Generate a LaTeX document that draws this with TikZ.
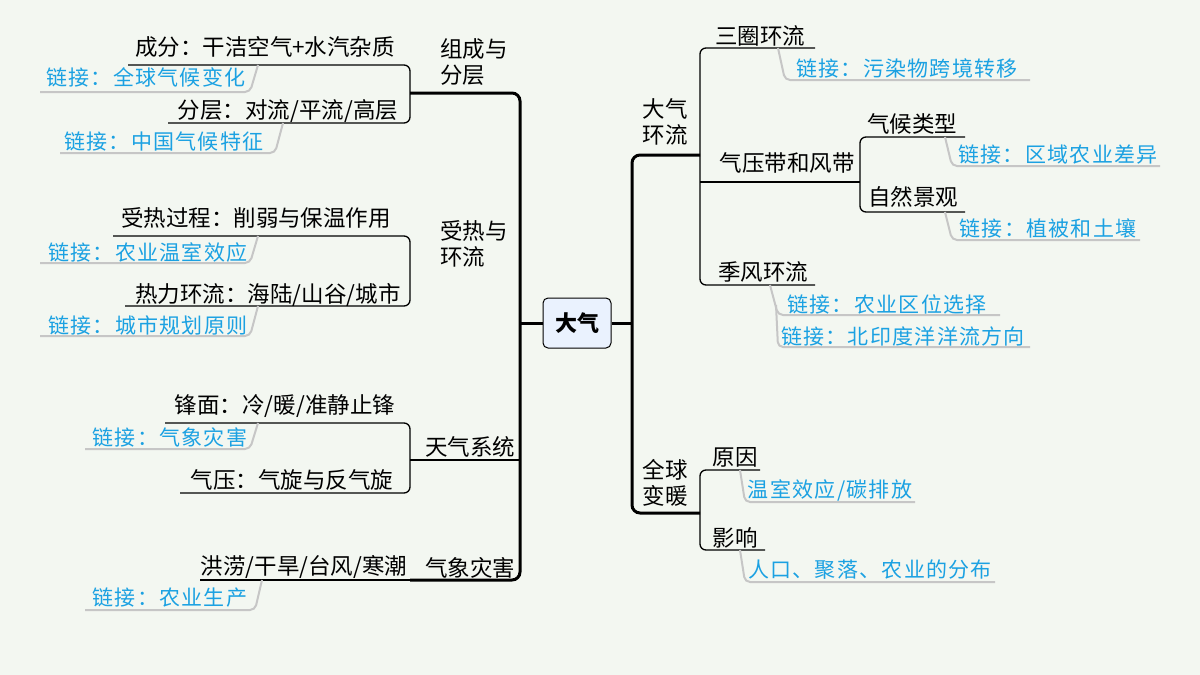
\documentclass[tikz,border=0pt]{standalone}
\usepackage{fontspec}
\setmainfont{Noto Sans CJK SC}
\usetikzlibrary{positioning}
\definecolor{bgc}{HTML}{F3F7F1}
\definecolor{linkc}{HTML}{1BA1E2}
\definecolor{boxc}{HTML}{EAF2FE}
\begin{document}
\begin{tikzpicture}
                    [
                        x=1pt,y=-1pt,
                        every node/.style={inner sep=0pt,font=\fontsize{22.5}{26}\selectfont},
                        linktext/.style={text=linkc,font=\fontsize{21}{24}\selectfont\addfontfeature{LetterSpace=6}},
                        branch/.style={line width=1.3pt,rounded corners=6pt},
                        trunk/.style={line width=3pt,rounded corners=8pt},
                        linkline/.style={gray!45,line width=2pt,rounded corners=5pt}
                    ]
                    % Hintergrund
                    \fill[bgc] (0,0) rectangle (1200,675);
                    \useasboundingbox (0,0) rectangle (1200,675);

                    \node[draw,fill=boxc,rounded corners=5pt,line width=1pt,minimum width=68pt,minimum height=50pt,font=\fontsize{22}{24}\selectfont\bfseries] (root) at (577,323) {大气};

                    % links
                    \draw[trunk] (410,93) -- (520,93) -- (520,580) -- (410,580);
                    \draw[trunk] (700,155) -- (632,155) -- (632,513) -- (700,513);
                    \draw[line width=3pt] (root.west) -- (520,323);
                    \draw[line width=3pt] (root.east) -- (632,323);

                    \node[align=left] (zc) at (474,62) {组成与\\分层};
                    \node[align=left] (sr) at (474,244) {受热与\\环流};
                    \node (tq) at (470,447) {天气系统};
                    \node (zh) at (470,568) {气象灾害};

                    \draw[branch] (128,65) -- (410,65) -- (410,123) -- (168,123);
                    \node (cf) at (265,47) {成分：干洁空气+水汽杂质};
                    \node (fc) at (288,111) {分层：对流/平流/高层};
                    \draw[linkline] (258,65) -- (250,92) -- (40,92);
                    \node[linktext] (l1) at (146,77) {链接：全球气候变化};
                    \draw[linkline] (283,123) -- (275,153) -- (60,153);
                    \node[linktext] (l2) at (164,142) {链接：中国气候特征};

                    \draw[branch] (113,236) -- (410,236) -- (410,306) -- (125,306);
                    \node (sg) at (256,218) {受热过程：削弱与保温作用};
                    \node (rl) at (268,295) {热力环流：海陆/山谷/城市};
                    \draw[linkline] (258,236) -- (250,263) -- (40,263);
                    \node[linktext] (l3) at (148,252) {链接：农业温室效应};
                    \draw[linkline] (258,306) -- (250,336) -- (40,336);
                    \node[linktext] (l4) at (148,325) {链接：城市规划原则};

                    \draw[branch] (165,423) -- (410,423) -- (410,493) -- (180,493);
                    \draw[branch] (410,460) -- (520,460);
                    \node (fm) at (285,406) {锋面：冷/暖/准静止锋};
                    \node (qy) at (292,480) {气压：气旋与反气旋};
                    \draw[linkline] (258,423) -- (250,449) -- (85,449);
                    \node[linktext] (l5) at (170,437) {链接：气象灾害};

                    \draw[branch] (200,580) -- (410,580);
                    \node (hl) at (304,567) {洪涝/干旱/台风/寒潮};
                    \draw[linkline] (262,580) -- (255,610) -- (85,610);
                    \node[linktext] (l6) at (170,598) {链接：农业生产};

                    % rechts
                    \node[align=left] (hl2) at (665,122) {大气\\环流};
                    \node[align=left] (qb) at (665,483) {全球\\变暖};

                    \draw[branch] (815,48) -- (700,48) -- (700,285) -- (815,285);
                    \draw[branch] (700,182) -- (860,182);
                    \node (sq) at (760,36) {三圈环流};
                    \draw[linkline] (778,48) -- (785,80) -- (1030,80);
                    \node[linktext] (l7) at (907,68) {链接：污染物跨境转移};
                    \node (qf) at (787,163) {气压带和风带};
                    \draw[branch] (965,137) -- (860,137) -- (860,212) -- (965,212);
                    \node (qh) at (912,124) {气候类型};
                    \draw[linkline] (945,137) -- (952,166) -- (1160,166);
                    \node[linktext] (l8) at (1058,155) {链接：区域农业差异};
                    \node (zr) at (913,197) {自然景观};
                    \draw[linkline] (945,212) -- (952,240) -- (1140,240);
                    \node[linktext] (l9) at (1048,228) {链接：植被和土壤};
                    \node (jf) at (763,272) {季风环流};
                    \draw[linkline] (770,285) -- (778,315) -- (1000,315);
                    \draw[linkline] (776,305) -- (778,347) -- (1030,347);
                    \node[linktext] (l10) at (887,304) {链接：农业区位选择};
                    \node[linktext] (l11) at (903,336) {链接：北印度洋洋流方向};

                    \draw[branch] (760,470) -- (700,470) -- (700,550) -- (765,550);
                    \node (yy) at (735,457) {原因};
                    \draw[linkline] (740,470) -- (745,502) -- (915,502);
                    \node[linktext] (l12) at (830,490) {温室效应/碳排放};
                    \node (yx) at (735,538) {影响};
                    \draw[linkline] (740,550) -- (745,582) -- (995,582);
                    \node[linktext] (l13) at (870,570) {人口、聚落、农业的分布};
                \end{tikzpicture}
\end{document}
